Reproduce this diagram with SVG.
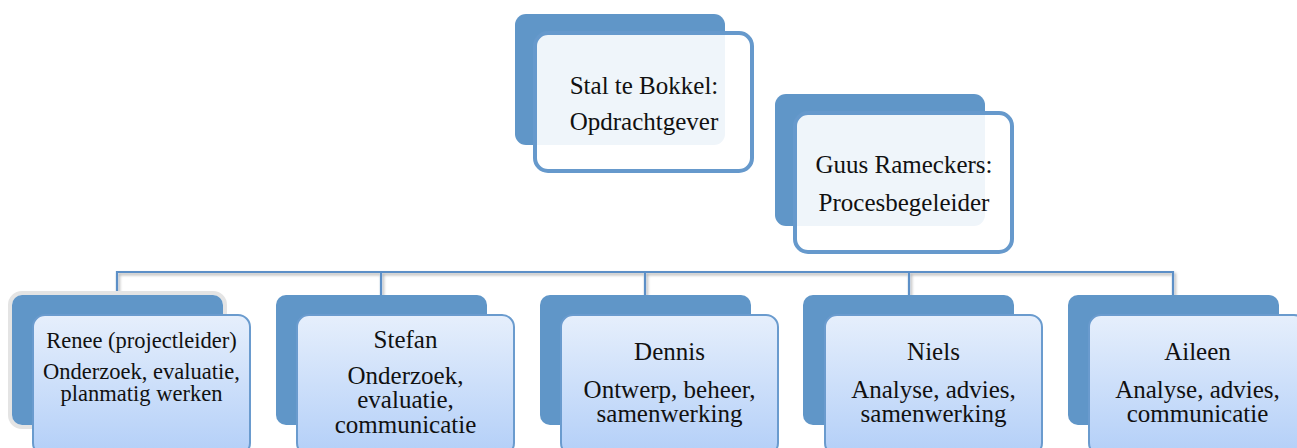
<svg xmlns="http://www.w3.org/2000/svg" width="1297" height="448" viewBox="0 0 1297 448">
<defs>
<linearGradient id="gFront" x1="0" y1="0" x2="0" y2="1">
<stop offset="0" stop-color="#E6EFFC"/>
<stop offset="1" stop-color="#B3CFF8"/>
</linearGradient>
<filter id="sh" x="-20%" y="-50%" width="140%" height="300%">
<feDropShadow dx="1.5" dy="2" stdDeviation="1.5" flood-color="#000" flood-opacity="0.35"/>
</filter>
<filter id="shStem" x="-300%" y="-10%" width="700%" height="130%">
<feDropShadow dx="2" dy="1" stdDeviation="1.2" flood-color="#000" flood-opacity="0.75"/>
</filter>
</defs>
<style>
.back{fill:#6096C8;}
.topFront{fill:#FFFFFF;fill-opacity:0.9;stroke:#6699CC;stroke-width:4;}
.botFront{fill:url(#gFront);stroke:#6A9BCE;stroke-width:2;}
.conn{fill:none;stroke:#5B8FC7;stroke-width:2.2;}
.stem{fill:none;stroke:#5B8FC7;stroke-width:3;}
text{font-family:"Liberation Serif","Times New Roman",serif;fill:#111;text-anchor:middle;}
.t25{font-size:25px;}
.t22{font-size:22.5px;}
</style>

<g id="connectors">
<g filter="url(#sh)">
<path class="conn" d="M117,295 V272 H1173 V295"/>
<path class="conn" d="M381,272 V295 M645,272 V295 M909,272 V295"/>
</g>
<path class="stem" filter="url(#shStem)" d="M621,152 V272"/>
</g>

<g id="node-stal">
<rect class="back" x="515" y="14" width="210" height="131" rx="11"/>
<rect class="topFront" x="535" y="33" width="217" height="138" rx="13"/>
<text class="t25" x="644" y="94">Stal te Bokkel:</text>
<text class="t25" x="644" y="130">Opdrachtgever</text>
</g>

<g id="node-guus">
<rect class="back" x="775" y="94" width="210" height="132" rx="11"/>
<rect class="topFront" x="795" y="113" width="217" height="139" rx="13"/>
<text class="t25" x="904" y="173">Guus Rameckers:</text>
<text class="t25" x="904" y="211">Procesbegeleider</text>
</g>

<g id="node-renee">
<rect x="10" y="293" width="215" height="134" rx="12" fill="none" stroke="#E4E4E4" stroke-width="4"/>
<rect class="back" x="12" y="295" width="211" height="130" rx="10"/>
<rect class="botFront" x="33" y="315" width="217" height="140" rx="12"/>
<text class="t22" x="141.5" y="348">Renee (projectleider)</text>
<text class="t22" x="141.5" y="379">Onderzoek, evaluatie,</text>
<text class="t22" x="141.5" y="401">planmatig werken</text>
</g>

<g id="node-stefan">
<rect class="back" x="276" y="295" width="211" height="130" rx="10"/>
<rect class="botFront" x="297" y="315" width="217" height="140" rx="12"/>
<text class="t25" x="405.5" y="348">Stefan</text>
<text class="t25" x="405.5" y="384">Onderzoek,</text>
<text class="t25" x="405.5" y="408">evaluatie,</text>
<text class="t25" x="405.5" y="433">communicatie</text>
</g>

<g id="node-dennis">
<rect class="back" x="540" y="295" width="211" height="130" rx="10"/>
<rect class="botFront" x="561" y="315" width="217" height="140" rx="12"/>
<text class="t25" x="669.5" y="360">Dennis</text>
<text class="t25" x="669.5" y="398">Ontwerp, beheer,</text>
<text class="t25" x="669.5" y="422">samenwerking</text>
</g>

<g id="node-niels">
<rect class="back" x="803" y="295" width="211" height="130" rx="10"/>
<rect class="botFront" x="825" y="315" width="217" height="140" rx="12"/>
<text class="t25" x="933.5" y="360">Niels</text>
<text class="t25" x="933.5" y="398">Analyse, advies,</text>
<text class="t25" x="933.5" y="422">samenwerking</text>
</g>

<g id="node-aileen">
<rect class="back" x="1068" y="295" width="211" height="130" rx="10"/>
<rect class="botFront" x="1089" y="315" width="217" height="140" rx="12"/>
<text class="t25" x="1197.5" y="360">Aileen</text>
<text class="t25" x="1197.5" y="398">Analyse, advies,</text>
<text class="t25" x="1197.5" y="422">communicatie</text>
</g>
</svg>
